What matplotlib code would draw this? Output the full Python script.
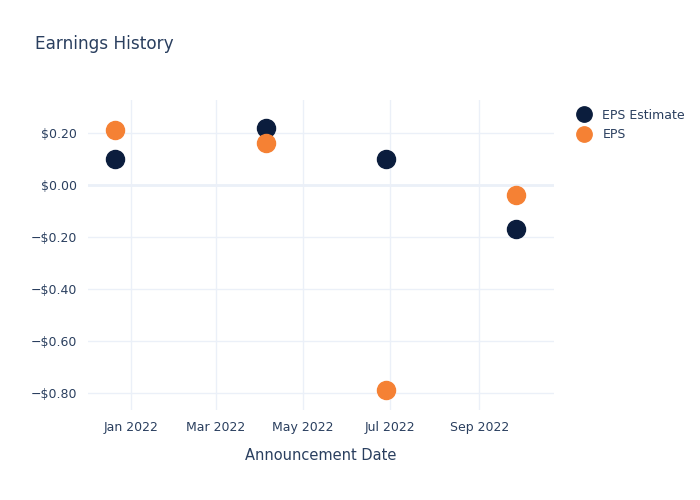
import matplotlib
matplotlib.use("Agg")
import matplotlib.pyplot as plt
import datetime as dt

dates = ["2021-12-21", "2022-04-05", "2022-06-28", "2022-09-27"]
eps_estimate = [0.10, 0.22, 0.10, -0.17]
eps_actual = [0.21, 0.16, -0.79, -0.04]
xtick_labels = ["Jan 2022", "Mar 2022", "May 2022", "Jul 2022", "Sep 2022"]
xtick_dates = ["2022-01-01", "2022-03-01", "2022-05-01", "2022-07-01", "2022-09-01"]
ytick_values = [0.2, 0.0, -0.2, -0.4, -0.6, -0.8]

text_color = "#2a3f5f"
grid_color = "#ebf0f8"

plt.rcParams['font.family'] = ['DejaVu Sans']

fig = plt.figure(figsize=(7, 5), dpi=100)
ax = fig.add_axes([0.126, 0.18, 0.665, 0.62])

x = [dt.datetime.strptime(d, "%Y-%m-%d") for d in dates]
ax.plot(x, eps_estimate, 'o', color="#0b1d3d", markersize=13, label="EPS Estimate", zorder=3)
ax.plot(x, eps_actual, 'o', color="#f58134", markersize=13, label="EPS", zorder=3)

ax.set_xlim(dt.datetime(2021, 12, 2), dt.datetime(2022, 10, 23))
ax.set_ylim(-0.865, 0.327)

ax.set_xticks([dt.datetime.strptime(d, "%Y-%m-%d") for d in xtick_dates])
ax.set_xticklabels(xtick_labels)
ax.set_yticks(ytick_values)
def fmt(v):
    if abs(v) < 1e-9:
        return "$0.00"
    if v < 0:
        return "\u2212$%.2f" % abs(v)
    return "$%.2f" % v
ax.set_yticklabels([fmt(v) for v in ytick_values])

for s in ax.spines.values():
    s.set_visible(False)
ax.grid(True, color=grid_color, linewidth=1)
ax.axhline(0, color=grid_color, linewidth=2, zorder=1)
ax.set_axisbelow(True)
ax.tick_params(axis='both', length=0, colors=text_color, labelsize=9, pad=8)

ax.set_xlabel("Announcement Date", color=text_color, fontsize=10.5, labelpad=10)
fig.text(0.05, 0.912, "Earnings History", color=text_color, fontsize=12.2, va='center', ha='left')

leg = fig.legend(loc='upper left', bbox_to_anchor=(0.8, 0.805), frameon=False,
                 fontsize=9, labelcolor=text_color, handletextpad=0.5, labelspacing=0.5,
                 markerscale=0.85)

fig.savefig("out.png", dpi=100, facecolor="white")
